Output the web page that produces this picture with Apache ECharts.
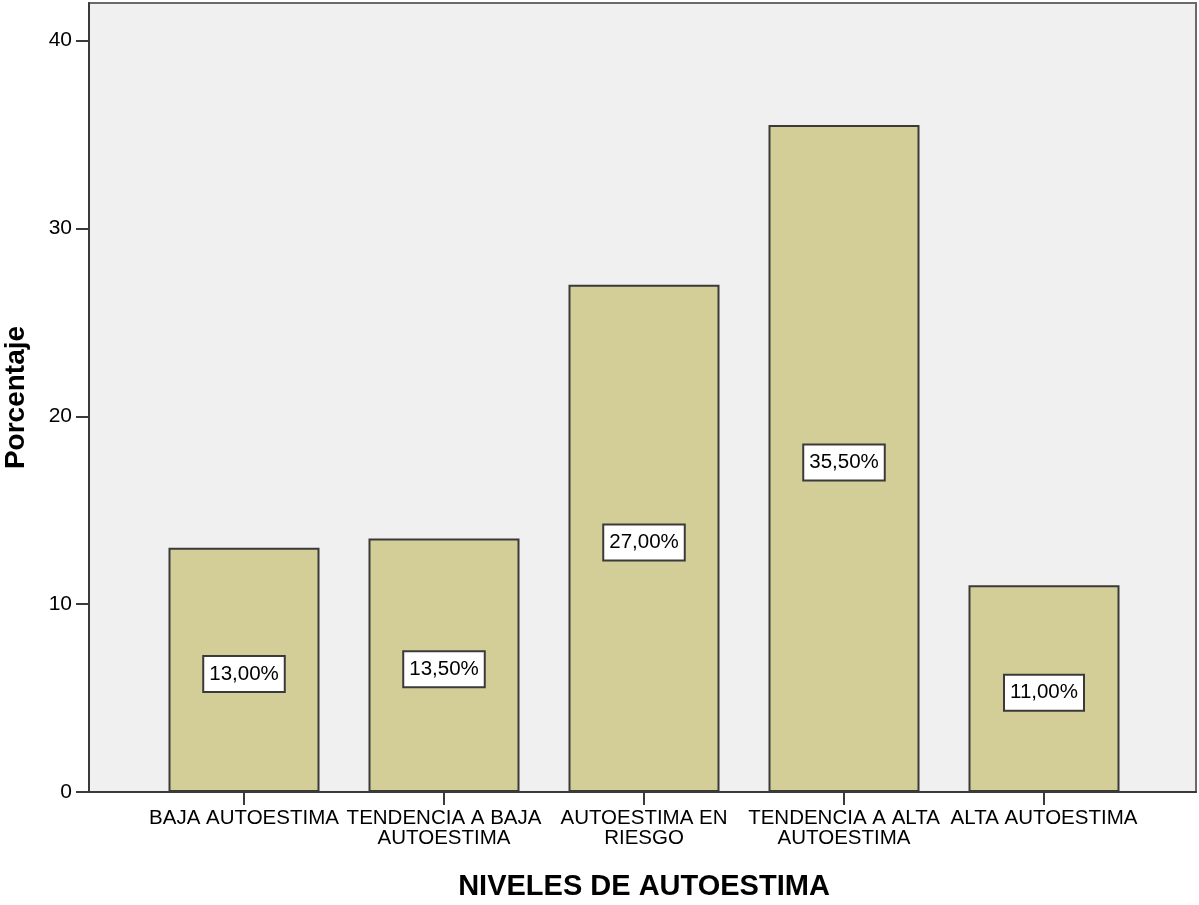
<!DOCTYPE html>
<html>
<head>
<meta charset="utf-8">
<script src="https://cdn.jsdelivr.net/npm/echarts@6/dist/echarts.min.js"></script>
<style>
html,body{margin:0;padding:0;background:#fff;}
#chart{width:1199px;height:905px;}
</style>
</head>
<body>
<div id="chart"></div>
<script>
const categories = ['BAJA AUTOESTIMA', 'TENDENCIA A BAJA\nAUTOESTIMA', 'AUTOESTIMA EN\nRIESGO', 'TENDENCIA A ALTA\nAUTOESTIMA', 'ALTA AUTOESTIMA'];
const percentages = [13.0, 13.5, 27.0, 35.5, 11.0];
const yTicks = [0, 10, 20, 30, 40];
const yTitle = 'Porcentaje';
const xTitle = 'NIVELES DE AUTOESTIMA';

const FONT = "'Liberation Sans', Arial, sans-serif";
const chart = echarts.init(document.getElementById('chart'), null, {renderer: 'canvas'});
const yMax = 42;

chart.setOption({
  animation: false,
  backgroundColor: '#ffffff',
  grid: [
    {left: 89, right: 3, top: 3, bottom: 113, show: true, backgroundColor: '#f0f0f0', borderColor: '#6a6a6a', borderWidth: 2, containLabel: false, outerBoundsMode: 'none'},
    {left: 144, right: 55, top: 3, bottom: 113, show: false, containLabel: false, outerBoundsMode: 'none'}
  ],
  xAxis: [
    {gridIndex: 0, type: 'value', min: 0, max: 1, axisLabel: {show: false}, axisTick: {show: false}, splitLine: {show: false},
     axisLine: {show: true, lineStyle: {color: '#3a3a3a', width: 2}}},
    {gridIndex: 1, type: 'category', data: categories, boundaryGap: true,
     axisLine: {show: false},
     axisTick: {show: true, alignWithLabel: true, length: 13, lineStyle: {color: '#3a3a3a', width: 2}},
     axisLabel: {interval: 0, margin: 16, color: '#000', fontFamily: FONT, fontSize: 20.5, lineHeight: 20},
     name: xTitle, nameLocation: 'middle', nameGap: 80,
     nameTextStyle: {fontFamily: FONT, fontSize: 29, fontWeight: 'bold', color: '#000'}}
  ],
  yAxis: [
    {gridIndex: 0, type: 'value', min: 0, max: yMax,
     axisLine: {show: true, lineStyle: {color: '#3a3a3a', width: 2}},
     axisTick: {show: true, length: 13, customValues: yTicks, lineStyle: {color: '#3a3a3a', width: 2}},
     axisLabel: {customValues: yTicks, margin: 17, color: '#000', fontFamily: FONT, fontSize: 21},
     splitLine: {show: false},
     name: yTitle, nameLocation: 'middle', nameGap: 59,
     nameTextStyle: {fontFamily: FONT, fontSize: 28, fontWeight: 'bold', color: '#000'}},
    {gridIndex: 1, type: 'value', min: 0, max: yMax, show: false, splitLine: {show: false}}
  ],
  series: [{
    type: 'bar',
    xAxisIndex: 1, yAxisIndex: 1,
    data: percentages,
    barWidth: 151,
    itemStyle: {color: '#d3ce97', borderColor: '#3a3a3a', borderWidth: 2},
    label: {
      show: true, position: 'inside', offset: [0, 4],
      formatter: p => p.value.toFixed(2).replace('.', ',') + '%',
      fontFamily: FONT, fontSize: 20.5, color: '#000',
      backgroundColor: '#ffffff', borderColor: '#3a3a3a', borderWidth: 2,
      padding: [7, 5, 6, 5]
    }
  }]
});
</script>
</body>
</html>
